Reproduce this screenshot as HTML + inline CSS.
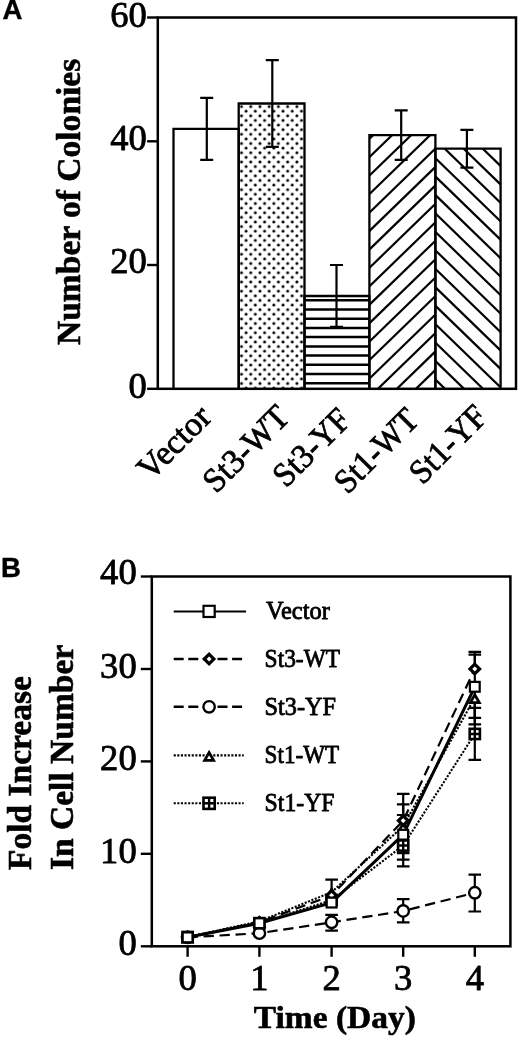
<!DOCTYPE html>
<html lang="en">
<head>
<meta charset="utf-8">
<title>Figure</title>
<style>
html,body{margin:0;padding:0;background:#fff;}
svg{display:block;}
text{fill:#000;}
.s{stroke:#000;stroke-width:0.8px;stroke-linejoin:round;font-family:"Liberation Serif",serif;}
.b{stroke-width:0.6px;}
.h{stroke:#000;stroke-width:0.4px;font-family:"Liberation Sans",sans-serif;}
</style>
</head>
<body>
<svg width="520" height="1037" viewBox="0 0 520 1037">
<rect width="520" height="1037" fill="#fff"/>
<defs>
<pattern id="dots" patternUnits="userSpaceOnUse" x="241.5" y="106.6" width="9.23" height="9.23"><rect x="-1.4" y="-1.4" width="2.8" height="2.8" rx="1.2" fill="#000"/><rect x="7.83" y="-1.4" width="2.8" height="2.8" rx="1.2" fill="#000"/><rect x="-1.4" y="7.83" width="2.8" height="2.8" rx="1.2" fill="#000"/><rect x="7.83" y="7.83" width="2.8" height="2.8" rx="1.2" fill="#000"/><rect x="3.2150000000000003" y="3.2150000000000003" width="2.8" height="2.8" rx="1.2" fill="#000"/></pattern>
<clipPath id="c3"><rect x="304.5" y="296.0" width="64.9" height="92.8"/></clipPath>
<clipPath id="c4"><rect x="369.4" y="135.1" width="66.0" height="253.7"/></clipPath>
<clipPath id="c5"><rect x="435.4" y="148.7" width="65.2" height="240.1"/></clipPath>
</defs>
<rect x="238.7" y="103.5" width="65.8" height="285.3" fill="url(#dots)"/>
<g clip-path="url(#c3)" stroke="#000" stroke-width="2.5"><line x1="304.5" x2="369.4" y1="300.2" y2="300.2"/><line x1="304.5" x2="369.4" y1="309.4" y2="309.4"/><line x1="304.5" x2="369.4" y1="318.7" y2="318.7"/><line x1="304.5" x2="369.4" y1="327.9" y2="327.9"/><line x1="304.5" x2="369.4" y1="337.1" y2="337.1"/><line x1="304.5" x2="369.4" y1="346.4" y2="346.4"/><line x1="304.5" x2="369.4" y1="355.6" y2="355.6"/><line x1="304.5" x2="369.4" y1="364.8" y2="364.8"/><line x1="304.5" x2="369.4" y1="374.0" y2="374.0"/><line x1="304.5" x2="369.4" y1="383.3" y2="383.3"/></g>
<g clip-path="url(#c4)" stroke="#000" stroke-width="2.2"><line x1="367.4" y1="-25.4" x2="437.4" y2="-93.3"/><line x1="367.4" y1="-6.9" x2="437.4" y2="-74.8"/><line x1="367.4" y1="11.5" x2="437.4" y2="-56.4"/><line x1="367.4" y1="30.0" x2="437.4" y2="-37.9"/><line x1="367.4" y1="48.4" x2="437.4" y2="-19.5"/><line x1="367.4" y1="66.9" x2="437.4" y2="-1.0"/><line x1="367.4" y1="85.3" x2="437.4" y2="17.4"/><line x1="367.4" y1="103.8" x2="437.4" y2="35.9"/><line x1="367.4" y1="122.2" x2="437.4" y2="54.3"/><line x1="367.4" y1="140.7" x2="437.4" y2="72.8"/><line x1="367.4" y1="159.1" x2="437.4" y2="91.2"/><line x1="367.4" y1="177.6" x2="437.4" y2="109.7"/><line x1="367.4" y1="196.0" x2="437.4" y2="128.1"/><line x1="367.4" y1="214.5" x2="437.4" y2="146.6"/><line x1="367.4" y1="232.9" x2="437.4" y2="165.0"/><line x1="367.4" y1="251.4" x2="437.4" y2="183.5"/><line x1="367.4" y1="269.8" x2="437.4" y2="201.9"/><line x1="367.4" y1="288.3" x2="437.4" y2="220.4"/><line x1="367.4" y1="306.7" x2="437.4" y2="238.8"/><line x1="367.4" y1="325.2" x2="437.4" y2="257.3"/><line x1="367.4" y1="343.6" x2="437.4" y2="275.7"/><line x1="367.4" y1="362.1" x2="437.4" y2="294.2"/><line x1="367.4" y1="380.5" x2="437.4" y2="312.6"/><line x1="367.4" y1="399.0" x2="437.4" y2="331.1"/><line x1="367.4" y1="417.4" x2="437.4" y2="349.5"/><line x1="367.4" y1="435.9" x2="437.4" y2="368.0"/><line x1="367.4" y1="454.3" x2="437.4" y2="386.4"/><line x1="367.4" y1="472.8" x2="437.4" y2="404.9"/><line x1="367.4" y1="491.2" x2="437.4" y2="423.3"/><line x1="367.4" y1="509.7" x2="437.4" y2="441.8"/><line x1="367.4" y1="528.1" x2="437.4" y2="460.2"/><line x1="367.4" y1="546.6" x2="437.4" y2="478.7"/><line x1="367.4" y1="565.0" x2="437.4" y2="497.1"/><line x1="367.4" y1="583.5" x2="437.4" y2="515.6"/><line x1="367.4" y1="601.9" x2="437.4" y2="534.0"/><line x1="367.4" y1="620.4" x2="437.4" y2="552.5"/><line x1="367.4" y1="638.8" x2="437.4" y2="570.9"/><line x1="367.4" y1="657.3" x2="437.4" y2="589.4"/><line x1="367.4" y1="675.7" x2="437.4" y2="607.8"/><line x1="367.4" y1="694.2" x2="437.4" y2="626.3"/></g>
<g clip-path="url(#c5)" stroke="#000" stroke-width="2.2"><line x1="433.4" y1="-249.7" x2="502.6" y2="-182.6"/><line x1="433.4" y1="-231.3" x2="502.6" y2="-164.2"/><line x1="433.4" y1="-212.8" x2="502.6" y2="-145.7"/><line x1="433.4" y1="-194.4" x2="502.6" y2="-127.3"/><line x1="433.4" y1="-175.9" x2="502.6" y2="-108.8"/><line x1="433.4" y1="-157.5" x2="502.6" y2="-90.4"/><line x1="433.4" y1="-139.0" x2="502.6" y2="-71.9"/><line x1="433.4" y1="-120.6" x2="502.6" y2="-53.5"/><line x1="433.4" y1="-102.1" x2="502.6" y2="-35.0"/><line x1="433.4" y1="-83.7" x2="502.6" y2="-16.6"/><line x1="433.4" y1="-65.2" x2="502.6" y2="1.9"/><line x1="433.4" y1="-46.8" x2="502.6" y2="20.3"/><line x1="433.4" y1="-28.3" x2="502.6" y2="38.8"/><line x1="433.4" y1="-9.9" x2="502.6" y2="57.2"/><line x1="433.4" y1="8.6" x2="502.6" y2="75.7"/><line x1="433.4" y1="27.0" x2="502.6" y2="94.1"/><line x1="433.4" y1="45.5" x2="502.6" y2="112.6"/><line x1="433.4" y1="63.9" x2="502.6" y2="131.0"/><line x1="433.4" y1="82.4" x2="502.6" y2="149.5"/><line x1="433.4" y1="100.8" x2="502.6" y2="167.9"/><line x1="433.4" y1="119.3" x2="502.6" y2="186.4"/><line x1="433.4" y1="137.7" x2="502.6" y2="204.8"/><line x1="433.4" y1="156.2" x2="502.6" y2="223.3"/><line x1="433.4" y1="174.6" x2="502.6" y2="241.7"/><line x1="433.4" y1="193.1" x2="502.6" y2="260.2"/><line x1="433.4" y1="211.5" x2="502.6" y2="278.6"/><line x1="433.4" y1="230.0" x2="502.6" y2="297.1"/><line x1="433.4" y1="248.4" x2="502.6" y2="315.5"/><line x1="433.4" y1="266.9" x2="502.6" y2="334.0"/><line x1="433.4" y1="285.3" x2="502.6" y2="352.4"/><line x1="433.4" y1="303.8" x2="502.6" y2="370.9"/><line x1="433.4" y1="322.2" x2="502.6" y2="389.3"/><line x1="433.4" y1="340.7" x2="502.6" y2="407.8"/><line x1="433.4" y1="359.1" x2="502.6" y2="426.2"/><line x1="433.4" y1="377.6" x2="502.6" y2="444.7"/><line x1="433.4" y1="396.0" x2="502.6" y2="463.1"/><line x1="433.4" y1="414.5" x2="502.6" y2="481.6"/><line x1="433.4" y1="432.9" x2="502.6" y2="500.0"/><line x1="433.4" y1="451.4" x2="502.6" y2="518.5"/><line x1="433.4" y1="469.8" x2="502.6" y2="536.9"/></g>
<path d="M173.5 388.8 V128.9 H238.7 V388.8" fill="none" stroke="#000" stroke-width="2.3"/>
<path d="M238.7 388.8 V103.5 H304.5 V388.8" fill="none" stroke="#000" stroke-width="2.3"/>
<path d="M304.5 388.8 V296.0 H369.4 V388.8" fill="none" stroke="#000" stroke-width="2.3"/>
<path d="M369.4 388.8 V135.1 H435.4 V388.8" fill="none" stroke="#000" stroke-width="2.3"/>
<path d="M435.4 388.8 V148.7 H500.6 V388.8" fill="none" stroke="#000" stroke-width="2.3"/>
<path d="M206.8 97.9 V159.8 M200.2 97.9 h13 M200.2 159.8 h13" fill="none" stroke="#000" stroke-width="2.2"/>
<path d="M272.3 60.2 V146.8 M265.8 60.2 h13 M265.8 146.8 h13" fill="none" stroke="#000" stroke-width="2.2"/>
<path d="M336.5 265.0 V326.9 M330.0 265.0 h13 M330.0 326.9 h13" fill="none" stroke="#000" stroke-width="2.2"/>
<path d="M401.2 110.3 V159.8 M394.7 110.3 h13 M394.7 159.8 h13" fill="none" stroke="#000" stroke-width="2.2"/>
<path d="M466.9 129.8 V167.6 M460.4 129.8 h13 M460.4 167.6 h13" fill="none" stroke="#000" stroke-width="2.2"/>
<rect x="157.8" y="17.5" width="358.2" height="371.3" fill="none" stroke="#000" stroke-width="2.5"/>
<line x1="147.1" x2="157.8" y1="388.8" y2="388.8" stroke="#000" stroke-width="2.4"/>
<text x="146.8" y="397.8" class="s" font-size="36.6" text-anchor="end">0</text>
<line x1="147.1" x2="157.8" y1="265.0" y2="265.0" stroke="#000" stroke-width="2.4"/>
<text x="146.8" y="272.9" class="s" font-size="36.6" text-anchor="end">20</text>
<line x1="147.1" x2="157.8" y1="141.3" y2="141.3" stroke="#000" stroke-width="2.4"/>
<text x="146.8" y="149.8" class="s" font-size="36.6" text-anchor="end">40</text>
<line x1="147.1" x2="157.8" y1="17.5" y2="17.5" stroke="#000" stroke-width="2.4"/>
<text x="146.8" y="26.9" class="s" font-size="36.6" text-anchor="end">60</text>
<text transform="translate(79.6 345) rotate(-90)" class="s b" font-weight="bold" font-size="33.5" textLength="286.3" lengthAdjust="spacingAndGlyphs">Number of Colonies</text>
<text transform="translate(150.5 481.8) rotate(-45)" class="s" font-size="34">Vector</text>
<text transform="translate(216.0 494.2) rotate(-45)" class="s" font-size="34" textLength="106.5" lengthAdjust="spacingAndGlyphs">St3-WT</text>
<text transform="translate(286.1 488.4) rotate(-45)" class="s" font-size="34" textLength="94" lengthAdjust="spacingAndGlyphs">St3-YF</text>
<text transform="translate(347.4 495.0) rotate(-45)" class="s" font-size="34" textLength="103.5" lengthAdjust="spacingAndGlyphs">St1-WT</text>
<text transform="translate(422.4 485.4) rotate(-45)" class="s" font-size="34" textLength="94.5" lengthAdjust="spacingAndGlyphs">St1-YF</text>
<text x="2.4" y="19.4" class="h" font-weight="bold" font-size="27.6">A</text>
<text x="0.9" y="576.9" class="h" font-weight="bold" font-size="27.6">B</text>
<path d="M403.2 815.0 V853.2 M396.9 815.0 h12.6 M396.9 853.2 h12.6" fill="none" stroke="#000" stroke-width="2.2"/>
<path d="M474.8 651.8 V724.4 M468.5 651.8 h12.6 M468.5 724.4 h12.6" fill="none" stroke="#000" stroke-width="2.2"/>
<path d="M331.6 879.7 V895.5 M325.3 879.7 h12.6" fill="none" stroke="#000" stroke-width="2.2"/>
<path d="M403.2 793.8 V820.6 M396.9 793.8 h12.6" fill="none" stroke="#000" stroke-width="2.2"/>
<path d="M474.8 654.6 V669.0 M468.5 654.6 h12.6" fill="none" stroke="#000" stroke-width="2.2"/>
<path d="M331.6 914.9 V930.6 M325.3 914.9 h12.6 M325.3 930.6 h12.6" fill="none" stroke="#000" stroke-width="2.2"/>
<path d="M403.2 899.1 V922.3 M396.9 899.1 h12.6 M396.9 922.3 h12.6" fill="none" stroke="#000" stroke-width="2.2"/>
<path d="M474.8 874.7 V911.5 M468.5 874.7 h12.6 M468.5 911.5 h12.6" fill="none" stroke="#000" stroke-width="2.2"/>
<path d="M403.2 804.4 V859.7 M396.9 804.4 h12.6 M396.9 859.7 h12.6" fill="none" stroke="#000" stroke-width="2.2"/>
<path d="M474.8 697.6 V717.9 M468.5 717.9 h12.6" fill="none" stroke="#000" stroke-width="2.2"/>
<path d="M403.2 845.5 V866.3 M396.9 866.3 h12.6" fill="none" stroke="#000" stroke-width="2.2"/>
<path d="M474.8 707.8 V759.9 M468.5 707.8 h12.6 M468.5 759.9 h12.6" fill="none" stroke="#000" stroke-width="2.2"/>
<polyline points="187.6,937.3 259.4,933.2 331.6,922.3 403.2,911.0 474.8,892.8" fill="none" stroke="#000" stroke-width="2.2" stroke-dasharray="10.3 5.7"/>
<polyline points="187.6,937.1 259.4,923.2 331.6,900.1 403.2,845.5 474.8,733.9" fill="none" stroke="#000" stroke-width="2.1" stroke-dasharray="2.1 1.5"/>
<polyline points="187.6,937.1 259.4,921.3 331.6,892.2 403.2,826.1 474.8,697.6" fill="none" stroke="#000" stroke-width="2.1" stroke-dasharray="2.1 1.5"/>
<polyline points="187.6,937.1 259.4,922.3 331.6,895.5 403.2,820.6 474.8,669.0" fill="none" stroke="#000" stroke-width="2.2" stroke-dasharray="10.3 5.7"/>
<polyline points="187.6,937.3 259.4,923.2 331.6,902.6 403.2,834.7 474.8,686.8" fill="none" stroke="#000" stroke-width="3"/>
<circle cx="187.60" cy="937.33" r="5.7" fill="#fff" stroke="#000" stroke-width="2.4"/>
<circle cx="259.40" cy="933.17" r="5.7" fill="#fff" stroke="#000" stroke-width="2.4"/>
<circle cx="331.60" cy="922.26" r="5.7" fill="#fff" stroke="#000" stroke-width="2.4"/>
<circle cx="403.20" cy="910.98" r="5.7" fill="#fff" stroke="#000" stroke-width="2.4"/>
<circle cx="474.80" cy="892.77" r="5.7" fill="#fff" stroke="#000" stroke-width="2.4"/>
<rect x="182.50" y="931.95" width="10.2" height="10.2" fill="#fff" stroke="#000" stroke-width="2.6"/><path d="M182.50 937.05 h10.2 M187.60 931.95 v10.2" stroke="#000" stroke-width="2.4" fill="none"/>
<rect x="254.30" y="918.09" width="10.2" height="10.2" fill="#fff" stroke="#000" stroke-width="2.6"/><path d="M254.30 923.19 h10.2 M259.40 918.09 v10.2" stroke="#000" stroke-width="2.4" fill="none"/>
<rect x="326.50" y="894.97" width="10.2" height="10.2" fill="#fff" stroke="#000" stroke-width="2.6"/><path d="M326.50 900.07 h10.2 M331.60 894.97 v10.2" stroke="#000" stroke-width="2.4" fill="none"/>
<rect x="398.10" y="840.43" width="10.2" height="10.2" fill="#fff" stroke="#000" stroke-width="2.6"/><path d="M398.10 845.53 h10.2 M403.20 840.43 v10.2" stroke="#000" stroke-width="2.4" fill="none"/>
<rect x="469.70" y="728.84" width="10.2" height="10.2" fill="#fff" stroke="#000" stroke-width="2.6"/><path d="M469.70 733.94 h10.2 M474.80 728.84 v10.2" stroke="#000" stroke-width="2.4" fill="none"/>
<path d="M183.10 942.05 L187.60 934.18 L192.10 942.05 Z" fill="#fff" stroke="#000" stroke-width="2.8" stroke-miterlimit="10"/>
<path d="M254.90 926.34 L259.40 918.47 L263.90 926.34 Z" fill="#fff" stroke="#000" stroke-width="2.8" stroke-miterlimit="10"/>
<path d="M327.10 897.22 L331.60 889.35 L336.10 897.22 Z" fill="#fff" stroke="#000" stroke-width="2.8" stroke-miterlimit="10"/>
<path d="M398.70 831.12 L403.20 823.25 L407.70 831.12 Z" fill="#fff" stroke="#000" stroke-width="2.8" stroke-miterlimit="10"/>
<path d="M470.30 702.61 L474.80 694.74 L479.30 702.61 Z" fill="#fff" stroke="#000" stroke-width="2.8" stroke-miterlimit="10"/>
<path d="M182.80 937.05 L187.60 932.25 L192.40 937.05 L187.60 941.85 Z" fill="#fff" stroke="#000" stroke-width="3.2"/>
<path d="M254.60 922.26 L259.40 917.46 L264.20 922.26 L259.40 927.06 Z" fill="#fff" stroke="#000" stroke-width="3.2"/>
<path d="M326.80 895.45 L331.60 890.65 L336.40 895.45 L331.60 900.25 Z" fill="#fff" stroke="#000" stroke-width="3.2"/>
<path d="M398.40 820.57 L403.20 815.77 L408.00 820.57 L403.20 825.37 Z" fill="#fff" stroke="#000" stroke-width="3.2"/>
<path d="M470.00 668.95 L474.80 664.15 L479.60 668.95 L474.80 673.75 Z" fill="#fff" stroke="#000" stroke-width="3.2"/>
<rect x="182.70" y="932.43" width="9.8" height="9.8" fill="#fff" stroke="#000" stroke-width="2.2"/>
<rect x="254.50" y="918.29" width="9.8" height="9.8" fill="#fff" stroke="#000" stroke-width="2.2"/>
<rect x="326.70" y="897.67" width="9.8" height="9.8" fill="#fff" stroke="#000" stroke-width="2.2"/>
<rect x="398.30" y="829.81" width="9.8" height="9.8" fill="#fff" stroke="#000" stroke-width="2.2"/>
<rect x="469.90" y="681.89" width="9.8" height="9.8" fill="#fff" stroke="#000" stroke-width="2.2"/>
<rect x="151.8" y="576.5" width="358.6" height="369.8" fill="none" stroke="#000" stroke-width="2.5"/>
<line x1="140.8" x2="151.8" y1="946.3" y2="946.3" stroke="#000" stroke-width="2.4"/>
<text x="136.7" y="954.9" class="s" font-size="36.6" text-anchor="end">0</text>
<line x1="140.8" x2="151.8" y1="853.8" y2="853.8" stroke="#000" stroke-width="2.4"/>
<text x="136.7" y="862.6" class="s" font-size="36.6" text-anchor="end">10</text>
<line x1="140.8" x2="151.8" y1="761.4" y2="761.4" stroke="#000" stroke-width="2.4"/>
<text x="136.7" y="770.2" class="s" font-size="36.6" text-anchor="end">20</text>
<line x1="140.8" x2="151.8" y1="669.0" y2="669.0" stroke="#000" stroke-width="2.4"/>
<text x="136.7" y="677.9" class="s" font-size="36.6" text-anchor="end">30</text>
<line x1="140.8" x2="151.8" y1="576.5" y2="576.5" stroke="#000" stroke-width="2.4"/>
<text x="136.7" y="583.9" class="s" font-size="36.6" text-anchor="end">40</text>
<line x1="187.6" x2="187.6" y1="946.3" y2="956.8" stroke="#000" stroke-width="2.4"/>
<text x="187.6" y="989.5" class="s" font-size="36.6" text-anchor="middle">0</text>
<line x1="259.4" x2="259.4" y1="946.3" y2="956.8" stroke="#000" stroke-width="2.4"/>
<text x="259.4" y="989.5" class="s" font-size="36.6" text-anchor="middle">1</text>
<line x1="331.6" x2="331.6" y1="946.3" y2="956.8" stroke="#000" stroke-width="2.4"/>
<text x="331.6" y="989.5" class="s" font-size="36.6" text-anchor="middle">2</text>
<line x1="403.2" x2="403.2" y1="946.3" y2="956.8" stroke="#000" stroke-width="2.4"/>
<text x="403.2" y="989.5" class="s" font-size="36.6" text-anchor="middle">3</text>
<line x1="474.8" x2="474.8" y1="946.3" y2="956.8" stroke="#000" stroke-width="2.4"/>
<text x="474.8" y="989.5" class="s" font-size="36.6" text-anchor="middle">4</text>
<text x="253.8" y="1027.6" class="s b" font-weight="bold" font-size="32.5" textLength="162" lengthAdjust="spacingAndGlyphs">Time (Day)</text>
<text transform="translate(30.9 870) rotate(-90)" class="s b" font-weight="bold" font-size="33.5">Fold Increase</text>
<text transform="translate(72.5 870) rotate(-90)" class="s b" font-weight="bold" font-size="33.5">In Cell Number</text>
<line x1="173.7" x2="246" y1="611.4" y2="611.4" stroke="#000" stroke-width="2"/>
<line x1="173.7" x2="243.7" y1="659.0" y2="659.0" stroke="#000" stroke-width="2.4" stroke-dasharray="10 4.6"/>
<line x1="173.7" x2="243.7" y1="706.8" y2="706.8" stroke="#000" stroke-width="2.4" stroke-dasharray="10 4.6"/>
<line x1="173.7" x2="243.7" y1="755.4" y2="755.4" stroke="#000" stroke-width="2.1" stroke-dasharray="2.1 1.5"/>
<line x1="173.7" x2="243.7" y1="803.3" y2="803.3" stroke="#000" stroke-width="2.1" stroke-dasharray="2.1 1.5"/>
<rect x="203.50" y="605.80" width="11.2" height="11.2" fill="#fff" stroke="#000" stroke-width="2.2"/>
<path d="M204.30 659.00 L209.10 654.20 L213.90 659.00 L209.10 663.80 Z" fill="#fff" stroke="#000" stroke-width="3.2"/>
<circle cx="209.10" cy="706.80" r="5.7" fill="#fff" stroke="#000" stroke-width="2.4"/>
<path d="M204.60 760.40 L209.10 752.53 L213.60 760.40 Z" fill="#fff" stroke="#000" stroke-width="2.8" stroke-miterlimit="10"/>
<rect x="203.50" y="797.70" width="11.2" height="11.2" fill="#fff" stroke="#000" stroke-width="2.6"/><path d="M203.50 803.30 h11.2 M209.10 797.70 v11.2" stroke="#000" stroke-width="2.4" fill="none"/>
<text x="266.0" y="619.0" class="s" font-size="24.5">Vector</text>
<text x="264.6" y="667.0" class="s" font-size="24.5" textLength="75.5" lengthAdjust="spacingAndGlyphs">St3-WT</text>
<text x="264.6" y="715.4" class="s" font-size="24.5" textLength="71.5" lengthAdjust="spacingAndGlyphs">St3-YF</text>
<text x="264.6" y="762.9" class="s" font-size="24.5" textLength="74.5" lengthAdjust="spacingAndGlyphs">St1-WT</text>
<text x="264.6" y="811.0" class="s" font-size="24.5" textLength="70.0" lengthAdjust="spacingAndGlyphs">St1-YF</text>
</svg>
</body>
</html>
